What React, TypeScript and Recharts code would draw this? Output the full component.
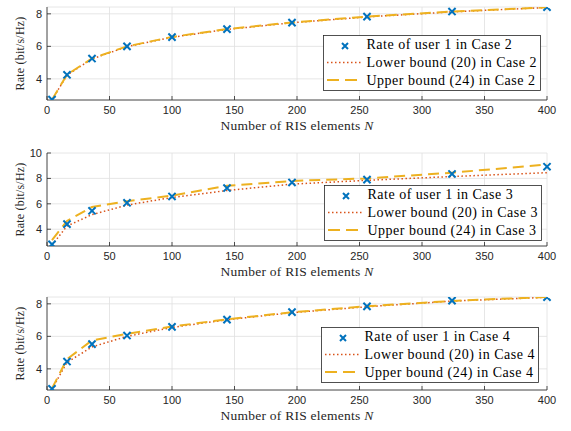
import React from "react";
import { LineChart, Line, XAxis, YAxis, CartesianGrid, Legend, Label } from "recharts";

const N = [4, 16, 36, 64, 100, 144, 196, 256, 324, 400];
const xTicks = [0, 50, 100, 150, 200, 250, 300, 350, 400];

const rate2 = [2.72, 4.25, 5.25, 6.0, 6.57, 7.06, 7.46, 7.83, 8.14, 8.41];
const lower2 = [2.7, 4.23, 5.23, 5.98, 6.56, 7.04, 7.45, 7.81, 8.12, 8.39];
const upper2 = [2.72, 4.26, 5.26, 6.0, 6.58, 7.06, 7.47, 7.83, 8.14, 8.4];

const rate3 = [2.81, 4.4, 5.45, 6.08, 6.58, 7.24, 7.68, 7.9, 8.35, 8.92];
const lower3 = [2.75, 4.25, 5.15, 5.9, 6.5, 7.05, 7.55, 7.85, 8.15, 8.45];
const upper3 = [3.15, 4.65, 5.75, 6.2, 6.65, 7.42, 7.8, 8.0, 8.45, 9.1];

const rate4 = [2.77, 4.45, 5.52, 6.05, 6.58, 7.03, 7.49, 7.84, 8.2, 8.41];
const lower4 = [2.75, 4.4, 5.35, 6.0, 6.55, 7.02, 7.46, 7.82, 8.17, 8.4];
const upper4 = [2.8, 4.6, 5.75, 6.15, 6.6, 7.05, 7.48, 7.85, 8.18, 8.42];

const BLUE = "#0072BD";
const ORANGE = "#D95319";
const YELLOW = "#EDB120";
const AX = "#262626";
const SERIF = "'Liberation Serif', 'Times New Roman', serif";
const SANS = "'Liberation Sans', Arial, Helvetica, sans-serif";

const XDot = (props: any) => {
  const { cx, cy, index } = props;
  if (cx == null || cy == null) return <g key={index} />;
  const s = 3.6;
  return (
    <path
      key={index}
      d={`M${cx - s},${cy - s}L${cx + s},${cy + s}M${cx - s},${cy + s}L${cx + s},${cy - s}`}
      stroke={BLUE}
      strokeWidth={2}
      fill="none"
    />
  );
};

const BottomTick = (props: any) => {
  const { x, y, payload } = props;
  return (
    <g>
      <line x1={x} y1={y} x2={x} y2={y - 4} stroke={AX} strokeWidth={0.8} />
      <text x={x} y={y + 14} textAnchor="middle" fontSize={11} fontFamily={SANS} fill={AX}>
        {payload.value}
      </text>
    </g>
  );
};

const TopTick = (props: any) => {
  const { x, y } = props;
  return <line x1={x} y1={y} x2={x} y2={y + 4} stroke={AX} strokeWidth={0.8} />;
};

const LeftTick = (props: any) => {
  const { x, y, payload } = props;
  return (
    <g>
      <line x1={x} y1={y} x2={x + 4} y2={y} stroke={AX} strokeWidth={0.8} />
      <text x={x - 5} y={y + 4} textAnchor="end" fontSize={11} fontFamily={SANS} fill={AX}>
        {payload.value}
      </text>
    </g>
  );
};

const RightTick = (props: any) => {
  const { x, y } = props;
  return <line x1={x} y1={y} x2={x - 4} y2={y} stroke={AX} strokeWidth={0.8} />;
};

const XLabel = (props: any) => {
  const vb = props.viewBox || {};
  return (
    <text
      x={vb.x + vb.width / 2}
      y={vb.y + 30}
      textAnchor="middle"
      fontSize={13.5}
      letterSpacing={0.25}
      fontFamily={SERIF}
      fill={AX}
    >
      Number of RIS elements <tspan fontStyle="italic">N</tspan>
    </text>
  );
};

const YLabel = (props: any) => {
  const vb = props.viewBox || {};
  const cx = 21;
  const cy = vb.y + vb.height / 2;
  return (
    <text
      x={cx}
      y={cy}
      transform={`rotate(-90 ${cx} ${cy})`}
      textAnchor="middle"
      dominantBaseline="middle"
      fontSize={12}
      letterSpacing={0.2}
      fontFamily={SERIF}
      fill={AX}
    >
      Rate (bit/s/Hz)
    </text>
  );
};

const makeLegend = (caseNo: number) => () => {
  const w = 218;
  const h = 56;
  const rows = [9.5, 27.5, 45];
  const mx = 22;
  const my = 11;
  return (
    <svg width={w} height={h} style={{ display: "block" }}>
      <rect x={0.5} y={0.5} width={w - 1} height={h - 1} fill="#fff" stroke={AX} strokeWidth={0.8} />
      <path
        d={`M${mx - 3},${my - 3}L${mx + 3},${my + 3}M${mx - 3},${my + 3}L${mx + 3},${my - 3}`}
        stroke={BLUE}
        strokeWidth={2}
      />
      <line x1={4} y1={rows[1]} x2={39} y2={rows[1]} stroke={ORANGE} strokeWidth={1.5} strokeDasharray="1.5 2.5" />
      <line x1={4} y1={rows[2]} x2={39} y2={rows[2]} stroke={YELLOW} strokeWidth={2} strokeDasharray="12 6" />
      <text x={43.5} y={rows[0] + 4.5} fontSize={14} letterSpacing={0.5} fontFamily={SERIF} fill="#000">
        {`Rate of user 1 in Case ${caseNo}`}
      </text>
      <text x={43.5} y={rows[1] + 4.5} fontSize={14} letterSpacing={0.5} fontFamily={SERIF} fill="#000">
        {`Lower bound (20) in Case ${caseNo}`}
      </text>
      <text x={43.5} y={rows[2] + 4.5} fontSize={14} letterSpacing={0.5} fontFamily={SERIF} fill="#000">
        {`Upper bound (24) in Case ${caseNo}`}
      </text>
    </svg>
  );
};

type PanelProps = {
  top: number;
  rate: number[];
  lower: number[];
  upper: number[];
  caseNo: number;
  yDomain: [number, number];
  yTicks: number[];
  legendLeft: number;
  legendTop: number;
};

const Panel = ({ top, rate, lower, upper, caseNo, yDomain, yTicks, legendLeft, legendTop }: PanelProps) => {
  const data = N.map((n, i) => ({ n, rate: rate[i], lower: lower[i], upper: upper[i] }));
  return (
    <div style={{ position: "absolute", left: 0, top, width: 571, height: 140 }}>
      <LineChart width={571} height={140} data={data} margin={{ top: 7, right: 24, bottom: 0, left: 0 }}>
        <CartesianGrid stroke="#e0e0e0" strokeWidth={0.8} />
        <XAxis
          dataKey="n"
          type="number"
          domain={[0, 400]}
          ticks={xTicks}
          height={40}
          tickSize={0}
          tickMargin={0}
          tickLine={false}
          tick={BottomTick}
          axisLine={{ stroke: AX, strokeWidth: 0.8 }}
          interval={0}
        >
          <Label content={XLabel} />
        </XAxis>
        <XAxis
          xAxisId="top"
          orientation="top"
          dataKey="n"
          type="number"
          domain={[0, 400]}
          ticks={xTicks}
          height={0}
          tickSize={0}
          tickMargin={0}
          tickLine={false}
          tick={TopTick}
          axisLine={{ stroke: AX, strokeWidth: 0.8 }}
          interval={0}
        />
        <YAxis
          type="number"
          domain={yDomain}
          ticks={yTicks}
          width={47}
          tickSize={0}
          tickMargin={0}
          tickLine={false}
          tick={LeftTick}
          axisLine={{ stroke: AX, strokeWidth: 0.8 }}
          allowDataOverflow
          interval={0}
        >
          <Label content={YLabel} />
        </YAxis>
        <YAxis
          yAxisId="right"
          orientation="right"
          type="number"
          domain={yDomain}
          ticks={yTicks}
          width={0}
          tickSize={0}
          tickMargin={0}
          tickLine={false}
          tick={RightTick}
          axisLine={{ stroke: AX, strokeWidth: 0.8 }}
          allowDataOverflow
          interval={0}
        />
        <Line
          dataKey="rate"
          stroke="none"
          strokeWidth={0}
          dot={XDot}
          activeDot={false}
          isAnimationActive={false}
        />
        <Line
          dataKey="lower"
          stroke={ORANGE}
          strokeWidth={1.5}
          strokeDasharray="1.5 2.5"
          dot={false}
          activeDot={false}
          type="linear"
          isAnimationActive={false}
        />
        <Line
          dataKey="upper"
          stroke={YELLOW}
          strokeWidth={2}
          strokeDasharray="11 6"
          dot={false}
          activeDot={false}
          type="linear"
          isAnimationActive={false}
        />
        <Legend
          layout="vertical"
          align="center"
          verticalAlign="middle"
          content={makeLegend(caseNo)}
          wrapperStyle={{ position: "absolute", left: legendLeft, top: legendTop, width: 218, height: 56 }}
        />
      </LineChart>
    </div>
  );
};

export default function App() {
  return (
    <div style={{ position: "absolute", left: 0, top: 0, width: 571, height: 431, background: "#fff" }}>
      <Panel
        top={0}
        rate={rate2}
        lower={lower2}
        upper={upper2}
        caseNo={2}
        yDomain={[2.7, 8.42]}
        yTicks={[4, 6, 8]}
        legendLeft={323}
        legendTop={35}
      />
      <Panel
        top={146}
        rate={rate3}
        lower={lower3}
        upper={upper3}
        caseNo={3}
        yDomain={[2.68, 10]}
        yTicks={[4, 6, 8, 10]}
        legendLeft={324}
        legendTop={39}
      />
      <Panel
        top={290}
        rate={rate4}
        lower={lower4}
        upper={upper4}
        caseNo={4}
        yDomain={[2.7, 8.42]}
        yTicks={[4, 6, 8]}
        legendLeft={321}
        legendTop={37}
      />
    </div>
  );
}
